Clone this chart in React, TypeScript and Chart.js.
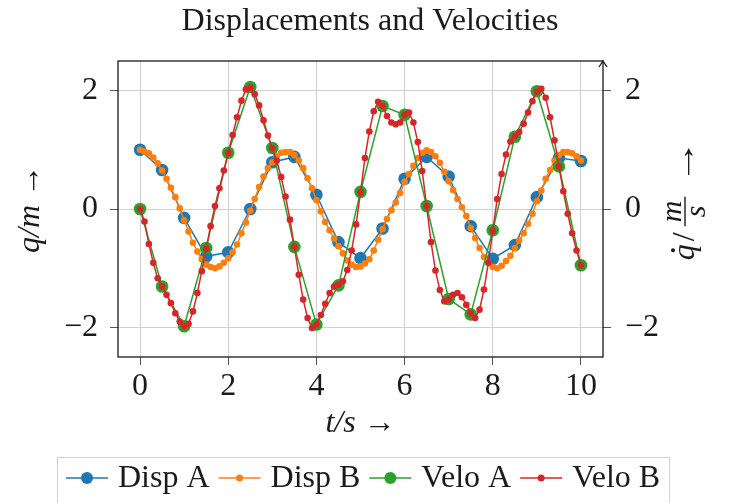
import { useEffect, useRef } from "react";
import { Chart, registerables } from "chart.js";
Chart.register(...registerables);

const SERIF = '"Liberation Serif", "DejaVu Serif", serif';

const tCoarse = [0, 0.5, 1, 1.5, 2, 2.5, 3, 3.5, 4, 4.5, 5, 5.5, 6, 6.5, 7, 7.5, 8, 8.5, 9, 9.5, 10];
const tFine = [
  0, 0.1, 0.2, 0.3, 0.4, 0.5, 0.6, 0.7, 0.8, 0.9,
  1, 1.1, 1.2, 1.3, 1.4, 1.5, 1.6, 1.7, 1.8, 1.9,
  2, 2.1, 2.2, 2.3, 2.4, 2.5, 2.6, 2.7, 2.8, 2.9,
  3, 3.1, 3.2, 3.3, 3.4, 3.5, 3.6, 3.7, 3.8, 3.9,
  4, 4.1, 4.2, 4.3, 4.4, 4.5, 4.6, 4.7, 4.8, 4.9,
  5, 5.1, 5.2, 5.3, 5.4, 5.5, 5.6, 5.7, 5.8, 5.9,
  6, 6.1, 6.2, 6.3, 6.4, 6.5, 6.6, 6.7, 6.8, 6.9,
  7, 7.1, 7.2, 7.3, 7.4, 7.5, 7.6, 7.7, 7.8, 7.9,
  8, 8.1, 8.2, 8.3, 8.4, 8.5, 8.6, 8.7, 8.8, 8.9,
  9, 9.1, 9.2, 9.3, 9.4, 9.5, 9.6, 9.7, 9.8, 9.9,
  10,
];

const dispA = [1.0, 0.66, -0.15, -0.8, -0.73, 0.0, 0.79, 0.88, 0.24, -0.56, -0.83, -0.33, 0.51, 0.88, 0.55, -0.29, -0.84, -0.61, 0.2, 0.86, 0.81];
const veloA = [0.0, -1.31, -1.98, -0.66, 0.95, 2.06, 1.03, -0.64, -1.95, -1.29, 0.29, 1.74, 1.59, 0.05, -1.52, -1.78, -0.36, 1.22, 1.99, 0.72, -0.95];

const dispB = [
  1.0, 0.97, 0.94, 0.87, 0.77, 0.65, 0.51, 0.36, 0.2, 0.01,
  -0.19, -0.38, -0.57, -0.72, -0.85, -0.94, -0.98, -1.0, -0.97, -0.91,
  -0.83, -0.73, -0.6, -0.41, -0.23, -0.03, 0.17, 0.37, 0.55, 0.69,
  0.79, 0.89, 0.95, 0.96, 0.96, 0.91, 0.82, 0.69, 0.52, 0.35,
  0.15, -0.04, -0.22, -0.36, -0.5, -0.63, -0.75, -0.87, -0.94, -0.98,
  -0.97, -0.92, -0.85, -0.7, -0.52, -0.34, -0.17, -0.02, 0.11, 0.27,
  0.46, 0.59, 0.73, 0.86, 0.95, 0.99, 0.96, 0.89, 0.78, 0.63,
  0.47, 0.32, 0.17, 0.03, -0.12, -0.32, -0.49, -0.66, -0.81, -0.91,
  -0.98, -1.0, -0.96, -0.88, -0.79, -0.66, -0.53, -0.41, -0.25, -0.08,
  0.13, 0.31, 0.51, 0.66, 0.82, 0.91, 0.96, 0.96, 0.94, 0.89,
  0.82,
];

const veloB = [
  0.0, -0.21, -0.59, -0.91, -1.17, -1.31, -1.45, -1.59, -1.76, -1.9,
  -1.98, -1.94, -1.73, -1.42, -1.05, -0.67, -0.29, 0.05, 0.35, 0.65,
  0.95, 1.25, 1.55, 1.83, 2.02, 2.05, 1.94, 1.75, 1.5, 1.24,
  1.03, 0.82, 0.54, 0.21, -0.18, -0.64, -1.11, -1.53, -1.84, -2.01,
  -1.95, -1.79, -1.6, -1.42, -1.31, -1.28, -1.22, -1.03, -0.7, -0.26,
  0.28, 0.86, 1.31, 1.65, 1.81, 1.74, 1.57, 1.46, 1.43, 1.46,
  1.59, 1.63, 1.46, 1.13, 0.64, 0.05, -0.56, -1.04, -1.37, -1.56,
  -1.53, -1.45, -1.42, -1.49, -1.62, -1.76, -1.84, -1.7, -1.36, -0.91,
  -0.37, 0.17, 0.59, 0.92, 1.14, 1.23, 1.3, 1.44, 1.63, 1.82,
  1.98, 2.03, 1.88, 1.55, 1.16, 0.72, 0.3, -0.08, -0.41, -0.7,
  -0.95,
];

const xTicks = [0, 2, 4, 6, 8, 10];
const yTicks = [-2, 0, 2];
const seriesNames = ["Disp A", "Disp B", "Velo A", "Velo B"];
const seriesColors = ["#1f77b4", "#ff7f0e", "#2ca02c", "#d62728"];
const bigMarker = [true, false, true, false];

const TEXT = "#1a1a1a";
const GRID = "#cfcfcf";

const fmt = (v: number | string) => String(v).replace("-", "\u2212");

const toPts = (xs: number[], ys: number[]) => ys.map((y, i) => ({ x: xs[i], y }));

const extras = {
  id: "extras",
  afterDraw(chart: any) {
    const { ctx, chartArea } = chart;
    const { left, right, top, bottom } = chartArea;
    ctx.save();
    // frame
    ctx.strokeStyle = TEXT;
    ctx.lineWidth = 1.3;
    ctx.strokeRect(left, top, right - left, bottom - top);
    // arrow on right spine
    ctx.beginPath();
    ctx.moveTo(right - 4, top + 6);
    ctx.lineTo(right, top);
    ctx.lineTo(right + 4, top + 6);
    ctx.stroke();

    // right axis label (rotated): q̇ / (m/s) →
    ctx.save();
    ctx.translate(684, 200);
    ctx.rotate(-Math.PI / 2);
    ctx.fillStyle = TEXT;
    ctx.textBaseline = "alphabetic";
    const bigI = `italic 32px ${SERIF}`;
    const big = `32px ${SERIF}`;
    const smI = `italic 30px ${SERIF}`;
    ctx.font = bigI;
    const wq = ctx.measureText("q").width;
    ctx.font = big;
    const wsl = ctx.measureText("/").width;
    ctx.font = smI;
    const wm = ctx.measureText("m").width;
    const wsx = ctx.measureText("s").width;
    const wf = Math.max(wm, wsx) + 8;
    ctx.font = big;
    const arScale = 1.4;
    const war = ctx.measureText("\u2192").width * arScale;
    const g1 = 3;
    const g2 = 6;
    const gapA = 12;
    const total = wq + g1 + wsl + g2 + wf + gapA + war;
    let u = -total / 2;
    const base = 10;
    ctx.font = bigI;
    ctx.fillText("q", u, base);
    ctx.beginPath();
    ctx.arc(u + wq * 0.62, base - 21, 2, 0, Math.PI * 2);
    ctx.fill();
    u += wq + g1;
    ctx.font = big;
    ctx.fillText("/", u, base);
    u += wsl + g2;
    const barV = base - 9;
    ctx.fillRect(u, barV - 0.7, wf, 1.4);
    ctx.font = smI;
    ctx.fillText("m", u + (wf - wm) / 2, barV - 4);
    ctx.fillText("s", u + (wf - wsx) / 2, barV + 20);
    u += wf + gapA;
    ctx.font = big;
    ctx.save();
    ctx.translate(u, base);
    ctx.scale(arScale, 1);
    ctx.fillText("\u2192", 0, 0);
    ctx.restore();
    ctx.restore();

    // legend
    ctx.font = `32px ${SERIF}`;
    ctx.textBaseline = "middle";
    const handle = 42;
    const gapHT = 10;
    const gapTT = 9;
    const widths = seriesNames.map((n) => ctx.measureText(n).width);
    let totalW = 0;
    widths.forEach((w, i) => {
      totalW += handle + gapHT + w + (i < widths.length - 1 ? gapTT : 0);
    });
    const padX = 9;
    const boxW = totalW + padX * 2;
    const boxL = Math.round(363 - boxW / 2);
    const cy = 478;
    ctx.strokeStyle = "#d0d0d0";
    ctx.lineWidth = 1;
    ctx.strokeRect(boxL + 0.5, 457.5, boxW, 70);
    let x = boxL + padX;
    seriesNames.forEach((name, i) => {
      const c = seriesColors[i];
      ctx.strokeStyle = c;
      ctx.lineWidth = 1.5;
      ctx.beginPath();
      ctx.moveTo(x, cy);
      ctx.lineTo(x + handle, cy);
      ctx.stroke();
      ctx.fillStyle = c;
      ctx.beginPath();
      ctx.arc(x + handle / 2, cy, bigMarker[i] ? 6 : 3.5, 0, Math.PI * 2);
      ctx.fill();
      x += handle + gapHT;
      ctx.fillStyle = TEXT;
      ctx.fillText(name, x, cy + 1);
      x += widths[i] + gapTT;
    });
    ctx.restore();
  },
};

export default function App() {
  const ref = useRef<HTMLCanvasElement>(null);
  useEffect(() => {
    document.body.style.margin = "0";
    const canvas = ref.current;
    if (!canvas) return;
    const tickFont = { family: SERIF, size: 32 };
    const xs = [tCoarse, tFine, tCoarse, tFine];
    const ys = [dispA, dispB, veloA, veloB];
    const axisIds = ["y", "y", "y2", "y2"];
    const datasets = seriesNames.map((name, i) => ({
      label: name,
      data: toPts(xs[i], ys[i]),
      yAxisID: axisIds[i],
      borderColor: seriesColors[i],
      backgroundColor: seriesColors[i],
      pointBackgroundColor: seriesColors[i],
      pointBorderColor: seriesColors[i],
      pointRadius: bigMarker[i] ? 6.3 : 3.3,
      pointBorderWidth: 0,
      borderWidth: 1.5,
      tension: 0,
      order: 4 - i,
    }));
    const chart = new Chart(canvas, {
      type: "line",
      data: { datasets },
      options: {
        responsive: false,
        animation: false,
        events: [],
        layout: { padding: 0 },
        plugins: {
          legend: { display: false },
          tooltip: { enabled: false },
          title: {
            display: true,
            text: "Displacements and Velocities",
            color: TEXT,
            font: { family: SERIF, size: 32, weight: "normal" },
            padding: { top: 2, bottom: 20.6 },
          },
        },
        scales: {
          x: {
            type: "linear",
            position: "bottom",
            min: -0.5,
            max: 10.5,
            afterBuildTicks: (s: any) => {
              s.ticks = xTicks.map((v) => ({ value: v }));
            },
            afterFit: (s: any) => {
              s.height = 146;
            },
            ticks: { font: tickFont, color: TEXT, padding: 2, maxRotation: 0, autoSkip: false, callback: (v: any) => fmt(v) },
            grid: { color: GRID, tickColor: "#555", tickLength: 8, lineWidth: 1 },
            border: { display: false },
            title: {
              display: true,
              text: "t/s \u2192",
              color: TEXT,
              font: { family: SERIF, size: 32, style: "italic" },
              padding: { top: 0, bottom: 60 },
            },
          },
          y: {
            type: "linear",
            position: "left",
            min: -2.5,
            max: 2.5,
            afterBuildTicks: (s: any) => {
              s.ticks = yTicks.map((v) => ({ value: v }));
            },
            afterFit: (s: any) => {
              s.width = 118;
            },
            ticks: { font: tickFont, color: TEXT, padding: 12, callback: (v: any) => fmt(v) },
            grid: { color: GRID, tickColor: "#555", tickLength: 8, lineWidth: 1 },
            border: { display: false },
            title: {
              display: true,
              text: "q/m \u2192",
              color: TEXT,
              font: { family: SERIF, size: 32, style: "italic" },
              padding: { top: 11, bottom: 0 },
            },
          },
          y2: {
            type: "linear",
            position: "right",
            min: -2.5,
            max: 2.5,
            afterBuildTicks: (s: any) => {
              s.ticks = yTicks.map((v) => ({ value: v }));
            },
            afterFit: (s: any) => {
              s.width = 137;
            },
            ticks: { font: tickFont, color: TEXT, padding: 14, callback: (v: any) => fmt(v) },
            grid: { drawOnChartArea: false, tickColor: "#555", tickLength: 8 },
            border: { display: false },
          },
        },
      },
      plugins: [extras],
    } as any);
    return () => chart.destroy();
  }, []);
  return <canvas ref={ref} width={740} height={503} style={{ display: "block" }} />;
}
